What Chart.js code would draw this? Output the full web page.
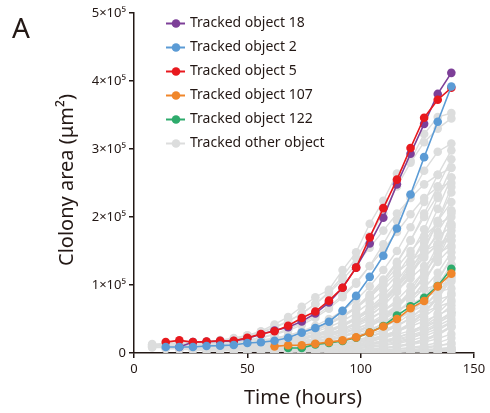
<!DOCTYPE html>
<html>
<head>
<meta charset="utf-8">
<script src="https://cdn.jsdelivr.net/npm/chart.js@4.4.0/dist/chart.umd.min.js"></script>
<style>
  body { margin: 0; background: #fff; }
  #wrap { position: relative; width: 490px; height: 413px; }
</style>
</head>
<body>
<div id="wrap"><canvas id="growth" width="490" height="413"></canvas></div>
<script>
// sampling times (hours)
const hours = [8, 14, 20, 26, 32, 38, 44, 50, 56, 62, 68, 74, 80, 86, 92, 98, 104, 110, 116, 122, 128, 134, 140];

// colony area, in 1000 um^2 (null = not tracked yet)
const obj18 = [null, null, 8.8, 16, 16.5, 17.5, 17.5, 21.5, 27.5, 33, 38, 46.5, 58, 74.5, 96, 125.5, 161, 199, 248, 293, 337, 381, 412];
const obj2 = [null, 8.8, 8.8, 8.8, 10.3, 10.8, 11.8, 14.7, 15.7, 18, 22.5, 30, 36.8, 46, 62, 84, 112, 143, 183, 233, 288, 340, 392];
const obj5 = [null, 16, 18.6, 16, 16.7, 18, 18, 22.5, 28, 32, 40, 51.5, 61, 77, 96, 125.5, 170, 213, 255, 301.5, 346, 372.5, 390];
const obj107 = [null, null, null, null, null, null, null, null, null, 9.8, 11.3, 11.3, 13.7, 16, 18.6, 23, 30, 39, 50, 65.7, 76.5, 98, 116.7];
const obj122 = [null, null, null, null, null, null, null, null, null, null, 7.4, 7.4, 12.7, 14.7, 17.6, 22.5, 30, 39.7, 55, 68.6, 81, 98.5, 124];

// other tracked objects: first hour seen + areas from then on
const otherStart = [8, 8, 14, 20, 26, 32, 38, 44, 50, 8, 14, 20, 26, 32, 38, 44, 50, 56, 62, 8, 14, 20, 26, 32, 50, 62, 68, 74, 80, 92, 98, 92, 104, 8, 14, 26, 38, 56, 44, 62, 8, 86,
    50, 56, 38, 44, 62, 68, 74, 80, 86, 92, 20, 26, 32, 14, 50, 56, 68, 44, 80, 98, 110, 62, 74];
const otherTracks = [
  [12, 13, 14, 15, 16, 18, 21, 26, 32, 42, 53, 68, 82, 93, 122, 148, 190, 224, 264, 283, 322, 347, 353],
  [10, 11, 12, 13, 14, 16, 19, 24, 30, 37, 46, 58, 72, 90, 112, 140, 172, 205, 245, 280, 310, 330, 345],
  [9, 10, 11, 12, 13, 15, 18, 22, 27, 33, 41, 52, 65, 82, 102, 128, 160, 195, 232, 268, 296, 308],
  [8, 9, 10, 11, 12, 14, 17, 21, 26, 32, 40, 50, 62, 78, 98, 122, 150, 185, 222, 262, 298],
  [7, 8, 9, 10, 12, 14, 17, 21, 26, 33, 42, 53, 66, 84, 105, 132, 165, 205, 245, 285],
  [8, 9, 10, 12, 14, 17, 20, 25, 31, 38, 47, 59, 74, 92, 115, 145, 182, 228, 273],
  [6, 7, 9, 11, 13, 16, 20, 25, 31, 39, 49, 62, 78, 100, 130, 168, 212, 258],
  [7, 8, 10, 12, 14, 17, 21, 27, 34, 43, 55, 70, 90, 116, 150, 194, 244],
  [5, 6, 7, 9, 11, 14, 18, 23, 30, 39, 51, 66, 86, 112, 152, 208],
  [9, 9, 10, 10, 11, 12, 13, 15, 17, 20, 24, 29, 35, 43, 53, 66, 82, 102, 126, 150, 172, 190, 200],
  [8, 8, 9, 9, 10, 11, 12, 14, 16, 19, 23, 28, 34, 42, 52, 64, 80, 100, 124, 150, 172, 185],
  [6, 7, 7, 8, 9, 10, 12, 14, 17, 21, 26, 32, 40, 50, 62, 78, 98, 120, 142, 160, 172],
  [5, 5, 6, 7, 8, 9, 11, 13, 16, 20, 25, 31, 39, 49, 62, 78, 98, 120, 142, 165],
  [4, 5, 6, 7, 8, 10, 12, 15, 18, 22, 28, 35, 44, 56, 70, 88, 110, 134, 155],
  [5, 6, 7, 8, 9, 11, 13, 16, 20, 25, 31, 39, 49, 61, 76, 95, 118, 148],
  [4, 5, 6, 7, 8, 10, 12, 15, 19, 24, 30, 38, 48, 62, 82, 108, 140],
  [3, 4, 5, 6, 7, 9, 11, 14, 18, 23, 30, 39, 51, 67, 92, 130],
  [4, 5, 6, 7, 8, 10, 12, 15, 19, 25, 33, 44, 60, 84, 120],
  [3, 4, 5, 6, 8, 10, 13, 17, 23, 31, 43, 60, 82, 112],
  [8, 8, 8, 9, 9, 10, 11, 12, 13, 15, 17, 20, 24, 29, 35, 42, 51, 62, 74, 84, 94, 100, 105],
  [7, 7, 8, 8, 9, 9, 10, 11, 13, 15, 18, 21, 25, 30, 36, 43, 52, 62, 72, 82, 90, 95],
  [5, 5, 6, 6, 7, 8, 9, 10, 12, 14, 17, 20, 24, 29, 35, 42, 50, 60, 70, 78, 85],
  [4, 4, 5, 5, 6, 7, 8, 9, 11, 13, 16, 19, 23, 28, 34, 41, 50, 60, 68, 75],
  [3, 3, 4, 5, 5, 6, 7, 8, 10, 12, 14, 17, 21, 26, 32, 39, 47, 56, 65],
  [3, 3, 4, 4, 5, 6, 7, 9, 11, 13, 16, 20, 26, 33, 44, 55],
  [2, 3, 3, 4, 5, 6, 7, 9, 11, 14, 18, 24, 33, 45],
  [2, 2, 3, 3, 4, 5, 6, 8, 10, 13, 18, 26, 38],
  [2, 2, 2, 3, 3, 4, 5, 6, 8, 11, 15, 22],
  [1, 2, 2, 2, 3, 3, 4, 5, 7, 10, 15],
  [1, 1, 2, 2, 2, 3, 3, 4, 5],
  [1, 1, 1, 2, 2, 2, 3, 4],
  [2, 2, 2, 3, 3, 4, 5, 6, 8],
  [1, 1, 2, 2, 2, 3, 3],
  [13, 14, 15, 16, 17, 19, 22, 26, 31, 38, 47, 58, 72, 88, 108, 130, 155, 180, 205, 228, 248, 262, 272],
  [10, 11, 12, 13, 14, 16, 19, 23, 28, 35, 44, 55, 68, 85, 104, 128, 152, 178, 204, 228, 244, 250],
  [6, 7, 8, 9, 10, 12, 14, 17, 21, 26, 32, 40, 50, 62, 78, 96, 118, 140, 160, 172],
  [4, 5, 6, 7, 8, 9, 11, 13, 16, 20, 25, 31, 39, 49, 62, 78, 100, 130],
  [5, 6, 7, 8, 9, 11, 13, 16, 20, 25, 32, 41, 53, 68, 88],
  [3, 4, 4, 5, 6, 7, 8, 10, 12, 15, 18, 22, 27, 33, 40, 48, 58],
  [4, 4, 5, 6, 7, 8, 10, 12, 15, 19, 24, 31, 40, 50],
  [11, 11, 12, 12, 13, 14, 15, 17, 19, 22, 26, 31, 37, 45, 55, 67, 82, 100, 118, 135, 150, 160, 166],
  [1, 1, 2, 2, 3, 3, 4, 5, 6, 8],
  [4, 5, 6, 7, 9, 11, 14, 18, 24, 32, 43, 58, 78, 104, 140, 190],
  [6, 7, 8, 10, 12, 15, 19, 25, 33, 44, 58, 78, 104, 138, 180],
  [7, 8, 9, 10, 12, 14, 17, 21, 27, 35, 45, 58, 75, 96, 122, 155, 192, 236],
  [5, 6, 7, 8, 10, 12, 15, 19, 24, 31, 40, 52, 68, 88, 114, 148, 188],
  [5, 6, 7, 9, 11, 14, 18, 24, 32, 43, 58, 78, 105, 140],
  [4, 5, 6, 7, 9, 12, 16, 22, 30, 42, 58, 80, 108],
  [3, 4, 5, 7, 9, 12, 16, 22, 30, 42, 58, 78],
  [3, 4, 5, 6, 8, 11, 15, 21, 30, 42, 60],
  [2, 3, 4, 5, 7, 10, 14, 20, 28, 40],
  [3, 4, 5, 7, 10, 14, 20, 28, 38],
  [7, 8, 8, 9, 10, 12, 14, 17, 21, 26, 33, 42, 54, 68, 86, 108, 134, 166, 200, 232, 258],
  [6, 6, 7, 8, 9, 11, 13, 16, 20, 25, 32, 41, 52, 66, 84, 106, 132, 162, 194, 222],
  [5, 6, 7, 8, 9, 11, 13, 16, 20, 26, 33, 42, 54, 70, 90, 114, 144, 178, 210],
  [6, 6, 7, 7, 8, 9, 10, 12, 14, 17, 21, 26, 32, 40, 50, 62, 76, 92, 110, 128, 146, 158],
  [2, 3, 3, 4, 5, 6, 7, 9, 11, 14, 18, 23, 29, 37, 47, 60],
  [2, 2, 3, 3, 4, 5, 6, 8, 10, 13, 17, 22, 28, 36, 46],
  [1, 2, 2, 3, 3, 4, 5, 7, 9, 12, 16, 21, 28],
  [6, 7, 8, 9, 11, 13, 16, 20, 25, 32, 41, 53, 70, 92, 120, 158, 205],
  [2, 2, 3, 3, 4, 5, 6, 7, 9, 11, 13],
  [1, 2, 2, 3, 3, 4, 5, 6],
  [1, 1, 2, 2, 2, 3],
  [6, 7, 8, 10, 12, 15, 19, 24, 31, 40, 52, 68, 88, 112],
  [5, 6, 7, 9, 11, 14, 18, 23, 30, 40, 53, 70]
];

const yTicks = [0, 100, 200, 300, 400, 500];
const xTicks = [0, 50, 100, 150];

const ink = '#231815';
const grey = '#dcdddd';
const fontFam = '"Noto Sans", "Liberation Sans", sans-serif';

function points(values) {
    return values.map((v, i) => ({ x: hours[i], y: v }));
}

function trackPoints(start, values) {
    const offset = hours.indexOf(start);
    return values.map((v, i) => ({ x: hours[offset + i], y: v }));
}

function tracked(label, values, color) {
    return {
        label,
        data: points(values),
        borderColor: color,
        backgroundColor: color,
        borderWidth: 1.6,
        pointRadius: 4.3,
        pointBorderWidth: 0,
        pointHoverRadius: 4.3
    };
}

// first in list is drawn on top
const datasets = [
    tracked('Tracked object 2', obj2, '#5b9bd5'),
    tracked('Tracked object 5', obj5, '#e8191e'),
    tracked('Tracked object 18', obj18, '#7d3f98'),
    tracked('Tracked object 107', obj107, '#f0862a'),
    tracked('Tracked object 122', obj122, '#2eab6c')
];
otherTracks.forEach((vals, i) => {
    datasets.push({
        label: 'Tracked other object',
        data: trackPoints(otherStart[i], vals),
        borderColor: grey,
        backgroundColor: grey,
        borderWidth: 1.4,
        pointRadius: 4.3,
        pointBorderWidth: 0
    });
});

const legendRows = [
    ['Tracked object 18', '#7d3f98'],
    ['Tracked object 2', '#5b9bd5'],
    ['Tracked object 5', '#e8191e'],
    ['Tracked object 107', '#f0862a'],
    ['Tracked object 122', '#2eab6c'],
    ['Tracked other object', grey]
];

const decorations = {
    id: 'decorations',
    afterDraw(chart) {
        const ctx = chart.ctx;
        ctx.save();
        ctx.fillStyle = ink;
        ctx.textBaseline = 'middle';

        // panel letter
        ctx.font = '28px ' + fontFam;
        ctx.textAlign = 'left';
        ctx.fillText('A', 12, 30);

        // legend
        ctx.font = '14px ' + fontFam;
        legendRows.forEach(([label, color], i) => {
            const y = 23.5 + i * 24;
            ctx.strokeStyle = color;
            ctx.lineWidth = 2;
            ctx.beginPath();
            ctx.moveTo(166, y);
            ctx.lineTo(185, y);
            ctx.stroke();
            ctx.fillStyle = color;
            ctx.beginPath();
            ctx.arc(176, y, 4.3, 0, Math.PI * 2);
            ctx.fill();
            ctx.fillStyle = ink;
            ctx.fillText(label, 190, y);
        });

        // axis titles
        ctx.font = '20px ' + fontFam;
        ctx.textAlign = 'center';
        ctx.fillText('Time (hours)', 303, 398);
        ctx.translate(67, 180);
        ctx.rotate(-Math.PI / 2);
        ctx.fillText('Clolony area (μm²)', 0, 0);
        ctx.restore();
    }
};

new Chart(document.getElementById('growth'), {
    type: 'line',
    data: { datasets },
    options: {
        responsive: false,
        animation: false,
        events: [],
        layout: { padding: { left: 0, top: 13, right: 16, bottom: 0 } },
        elements: { line: { tension: 0 } },
        plugins: {
            legend: { display: false },
            tooltip: { enabled: false }
        },
        scales: {
            x: {
                type: 'linear',
                min: 0,
                max: 150,
                afterFit: function(scale) { scale.height = 60; },
                afterBuildTicks: function(scale) { scale.ticks = xTicks.map(v => ({ value: v })); },
                ticks: { color: ink, font: { family: fontFam, size: 13 }, padding: 3, maxRotation: 0 },
                grid: { drawOnChartArea: false, tickLength: 5, color: ink, lineWidth: 1.5 },
                border: { color: ink, width: 1.5 }
            },
            y: {
                min: 0,
                max: 500,
                afterFit: function(scale) { scale.width = 134; },
                afterBuildTicks: function(scale) { scale.ticks = yTicks.map(v => ({ value: v })); },
                ticks: {
                    color: ink,
                    font: { family: fontFam, size: 13 },
                    padding: 3,
                    callback: function(value) { return value === 0 ? '0' : (value / 100) + '×10⁵'; }
                },
                grid: { drawOnChartArea: false, tickLength: 5, color: ink, lineWidth: 1.5 },
                border: { color: ink, width: 1.5 }
            }
        }
    },
    plugins: [decorations]
});
</script>
</body>
</html>
